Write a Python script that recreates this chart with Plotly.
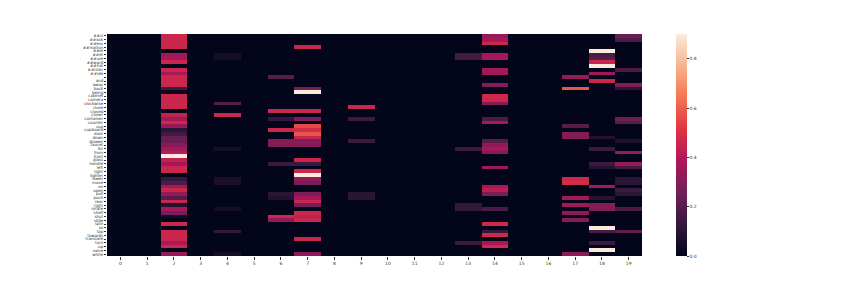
import plotly.graph_objects as go

tokens = ["##cl", "##ock", "##ess", "##ination", "##el", "##et", "##ure", "##ward", "##hat", "##ister",
          "##ide", ".", "and", "away", "back", "being", "cabinet", "camera", "clockwise", "close",
          "closed", "closer", "container", "counter", "cup", "cupboard", "door", "down", "drawer", "faucet",
          "for", "from", "front", "glass", "handle", "left", "light", "lighter", "lower", "move",
          "on", "open", "pull", "push", "rear", "right", "rotate", "shelf", "shut", "slide",
          "spin", "so", "tap", "towards", "translate", "turn", "up", "valve", "white"]

heads = list(range(20))

col_zero = [0, 0, 0, 0, 0, 0, 0, 0, 0, 0,
            0, 0, 0, 0, 0, 0, 0, 0, 0, 0,
            0, 0, 0, 0, 0, 0, 0, 0, 0, 0,
            0, 0, 0, 0, 0, 0, 0, 0, 0, 0,
            0, 0, 0, 0, 0, 0, 0, 0, 0, 0,
            0, 0, 0, 0, 0, 0, 0, 0, 0]

col_2 = [.46, .46, .46, .46, 0, .36, .38, .46, 0, .46,
         .38, .46, .46, .46, .14, .02, .46, .46, .46, .46,
         0, .44, .36, .47, .34, .10, .15, .24, .24, .30,
         .37, .41, .90, .43, .37, .46, .46, 0, .12, .18,
         .37, .46, .34, .20, .46, .08, .37, .27, .04, 0,
         .47, 0, .46, .46, .46, .39, .46, 0, .34]

col_4 = [0, 0, 0, 0, 0, .05, .05, 0, 0, 0,
         0, 0, 0, 0, 0, 0, 0, 0, .20, 0,
         0, .46, 0, 0, 0, 0, 0, 0, 0, 0,
         .05, 0, 0, 0, 0, 0, 0, 0, .06, .06,
         0, 0, 0, 0, 0, 0, .05, 0, 0, 0,
         0, 0, .12, 0, 0, 0, 0, 0, .05]

col_6 = [0, 0, 0, 0, 0, 0, 0, 0, 0, 0,
         0, .20, 0, 0, 0, 0, 0, 0, 0, 0,
         .46, 0, .12, 0, 0, .46, 0, 0, .30, .30,
         0, 0, 0, 0, .14, 0, 0, 0, 0, 0,
         0, 0, .10, .08, 0, 0, 0, 0, .47, .33,
         0, 0, 0, 0, 0, 0, 0, 0, 0]

col_7 = [0, 0, 0, .46, 0, 0, 0, 0, 0, 0,
         0, 0, 0, 0, .27, .90, 0, 0, 0, 0,
         .46, 0, .28, 0, .56, .48, .58, .45, .30, .30,
         0, 0, 0, .46, .14, 0, .46, .90, .34, .27,
         0, 0, .28, .37, .46, .27, 0, .46, .43, .46,
         0, 0, 0, 0, .46, 0, 0, 0, .32]

col_9 = [0, 0, 0, 0, 0, 0, 0, 0, 0, 0,
         0, 0, 0, 0, 0, 0, 0, 0, 0, .46,
         0, 0, .14, 0, 0, 0, 0, 0, .14, 0,
         0, 0, 0, 0, 0, 0, 0, 0, 0, 0,
         0, 0, .10, .10, 0, 0, 0, 0, 0, 0,
         0, 0, 0, 0, 0, 0, 0, 0, 0]

col_13 = [0, 0, 0, 0, 0, .15, .17, 0, 0, 0,
          0, 0, 0, 0, 0, 0, 0, 0, 0, 0,
          0, 0, 0, 0, 0, 0, 0, 0, 0, 0,
          .14, 0, 0, 0, 0, 0, 0, 0, 0, 0,
          0, 0, 0, 0, 0, .12, .12, 0, 0, 0,
          0, 0, 0, 0, 0, .14, 0, 0, 0]

col_14 = [.34, .37, .46, 0, 0, .37, .37, 0, 0, .36,
          .36, 0, 0, .30, 0, 0, .47, .46, .30, 0,
          0, 0, .18, .37, 0, 0, 0, 0, .20, .32,
          .37, .30, 0, 0, 0, .36, 0, 0, 0, 0,
          .37, .42, .28, 0, 0, 0, .18, 0, 0, 0,
          .47, 0, .12, .47, 0, .38, .47, 0, 0]

col_17 = [0, 0, 0, 0, 0, 0, 0, 0, 0, 0,
          0, .34, 0, 0, .58, 0, 0, 0, 0, 0,
          0, 0, 0, 0, .20, 0, .30, .30, 0, 0,
          0, 0, 0, 0, 0, 0, 0, 0, .47, .48,
          0, 0, 0, .36, 0, .36, 0, .32, 0, .30,
          0, 0, 0, 0, 0, 0, 0, 0, .32]

col_18 = [0, 0, 0, 0, .90, .17, .20, .46, .90, 0,
          .36, 0, .46, 0, 0, 0, 0, 0, 0, 0,
          0, 0, 0, 0, 0, 0, 0, .08, 0, 0,
          .14, 0, 0, 0, .14, .09, 0, 0, 0, 0,
          .37, 0, 0, .09, 0, .30, .30, 0, 0, 0,
          0, .90, .17, 0, 0, .14, 0, .90, 0]

col_19 = [.24, .18, 0, 0, 0, 0, 0, 0, 0, .18,
          0, 0, 0, .30, .10, 0, 0, 0, 0, 0,
          0, 0, .25, .20, 0, 0, 0, 0, .07, 0,
          0, .34, 0, 0, .34, .17, 0, 0, .10, .10,
          0, .14, .10, 0, 0, 0, .18, 0, 0, 0,
          0, 0, .22, 0, 0, 0, 0, 0, 0]

columns = [col_zero, col_zero, col_2, col_zero, col_4, col_zero, col_6, col_7, col_zero, col_9,
           col_zero, col_zero, col_zero, col_13, col_14, col_zero, col_zero, col_17, col_18, col_19]

z = [[columns[c][r] for c in range(len(heads))] for r in range(len(tokens))]

rocket = [[0.0, "#03051a"], [1/7, "#35193e"], [2/7, "#701f57"], [3/7, "#ad1759"],
          [4/7, "#e13342"], [5/7, "#f37651"], [6/7, "#f6b48f"], [1.0, "#faebdd"]]

fig = go.Figure(go.Heatmap(
    z=z, x=heads, y=tokens, colorscale=rocket, zmin=0, zmax=0.9,
    colorbar=dict(x=1.063, xanchor="left", xpad=0, y=0.5, yanchor="middle", ypad=0,
                  len=1.0, lenmode="fraction",
                  thickness=11, outlinewidth=0, ticks="outside", ticklen=2, tickwidth=0.6,
                  tickcolor="#333", tickvals=[0, 0.2, 0.4, 0.6, 0.8], tickformat=".1f",
                  tickfont=dict(size=4.5, color="#333", family="DejaVu Sans")),
))

fig.update_layout(
    width=862, height=287,
    margin=dict(l=99, r=228, t=26, b=39),
    paper_bgcolor="white", plot_bgcolor="white",
    font=dict(family="DejaVu Sans", size=4.5, color="#333"),
)
fig.update_xaxes(tickmode="array", tickvals=heads, ticktext=[str(h) for h in heads],
                 ticks="outside", ticklen=3, tickwidth=0.6, tickcolor="#333",
                 showgrid=False, zeroline=False, showline=False,
                 tickfont=dict(size=4.5, color="#333"))
fig.update_yaxes(autorange="reversed", tickmode="array", tickvals=tokens, ticktext=tokens,
                 ticks="outside", ticklen=2, tickwidth=0.6, tickcolor="#333",
                 showgrid=False, zeroline=False, showline=False,
                 tickfont=dict(size=4, color="#333"))

fig.write_html("out.html")
